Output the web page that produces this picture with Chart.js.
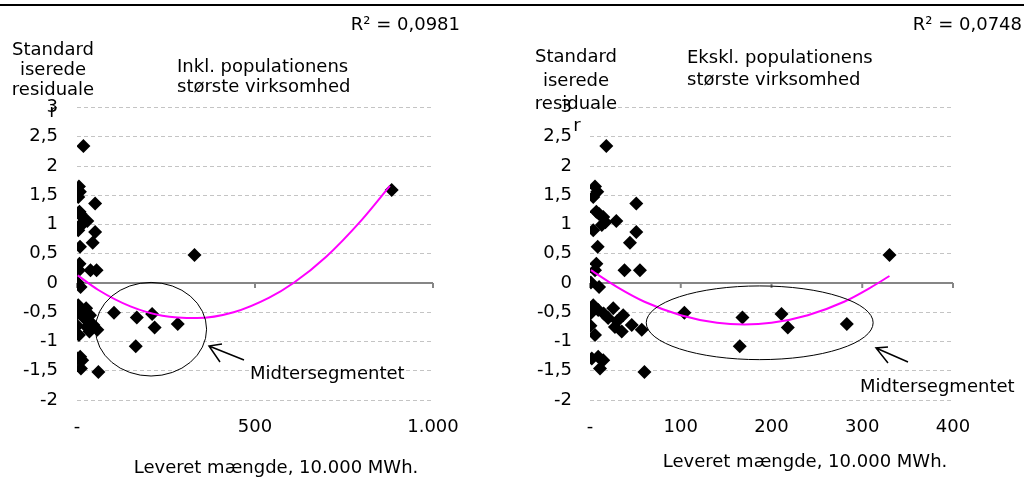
<!DOCTYPE html>
<html>
<head>
<meta charset="utf-8">
<script src="https://cdn.jsdelivr.net/npm/chart.js@4/dist/chart.umd.min.js"></script>
<style>
body { margin: 0; background: #fff; }
#wrap { position: relative; width: 1026px; height: 477px; overflow: hidden; }
.topline { position: absolute; left: 0; top: 4px; width: 1024px; height: 2px; background: #000; }
.panel { position: absolute; top: 0; width: 513px; height: 477px; }
</style>
</head>
<body>
<div id="wrap">
  <div class="topline"></div>
  <div class="panel" style="left:0"><canvas id="chartInkl" width="513" height="477"></canvas></div>
  <div class="panel" style="left:513px"><canvas id="chartEkskl" width="513" height="477"></canvas></div>
</div>
<script>
// leveret mængde (10.000 MWh) and standardiserede residualer
var leveret = [18, 5.5, 8, 3.6, 51, 7, 14.6, 29, 13, 3.6, 51, 44, 8.5, 7, 5.5, 38, 55, 330,
               1, 10, 3.6, 9, 0.5, 25.6, 36.6, 20, 27.5, 35, 46, 57, 0.5, 5.5, 9, 14.6, 2, 11, 60,
               104, 168, 211, 218, 283, 165, 10, 17, 15, 30]
var residualer = [2.34, 1.65, 1.56, 1.47, 1.36, 1.22, 1.13, 1.06, 0.99, 0.90, 0.87, 0.69, 0.62, 0.33, 0.22, 0.22, 0.22, 0.48,
                  0.01, -0.07, -0.38, -0.46, -0.52, -0.43, -0.55, -0.60, -0.75, -0.83, -0.72, -0.80, -0.73, -0.89, -1.26, -1.32, -1.29, -1.46, -1.52,
                  -0.51, -0.59, -0.53, -0.76, -0.70, -1.08, 1.18, 1.04, -0.52, -0.65]
// populationens største virksomhed (only in the left panel)
var stoersteX = [884]
var stoersteY = [1.59]

// polynomial trend lines (2nd order)
var trendInklX = [2, 60, 150, 240, 336, 440, 540, 608, 700, 800, 879]
var trendInklY = [0.13, -0.12, -0.40, -0.56, -0.60, -0.50, -0.25, 0.0, 0.45, 1.08, 1.66]
var trendEksklX = [1, 30, 60, 100, 140, 170, 200, 240, 280, 310, 330]
var trendEksklY = [0.22, -0.07, -0.32, -0.55, -0.68, -0.71, -0.68, -0.55, -0.32, -0.07, 0.12]

var yTickLabels = ['-2', '-1,5', '-1', '-0,5', '0', '0,5', '1', '1,5', '2', '2,5', '3']
var xTickInkl = ['-', '500', '1.000']
var xTickEkskl = ['-', '100', '200', '300', '400']

var FONT = '"DejaVu Sans", Verdana, sans-serif'
Chart.defaults.font.family = FONT
Chart.defaults.font.size = 18
Chart.defaults.color = '#000'

function toPoints(xs, ys) {
    return xs.map(function (x, i) { return {x: x, y: ys[i]} })
}

// axis line at 0, ellipse, arrow and texts
var extras = {
    id: 'extras',
    beforeDatasetsDraw: function (chart) {
        var ctx = chart.ctx, xs = chart.scales.x, ys = chart.scales.y
        var y0 = ys.getPixelForValue(0)
        ctx.save()
        ctx.strokeStyle = '#868686'
        ctx.lineWidth = 2
        ctx.beginPath()
        ctx.moveTo(chart.chartArea.left, y0)
        ctx.lineTo(chart.chartArea.right, y0)
        xs.ticks.forEach(function (t) {
            var px = xs.getPixelForValue(t.value)
            ctx.moveTo(px, y0)
            ctx.lineTo(px, y0 + 5)
        })
        ctx.stroke()
        ctx.restore()
    },
    afterDraw: function (chart) {
        var o = chart.options.plugins.extras
        var ctx = chart.ctx, xs = chart.scales.x, ys = chart.scales.y
        ctx.save()
        // ellipse round the middle segment
        var cx = xs.getPixelForValue(o.ell[0]), cy = ys.getPixelForValue(o.ell[1])
        var rx = Math.abs(xs.getPixelForValue(o.ell[0] + o.ell[2]) - cx)
        var ry = Math.abs(ys.getPixelForValue(o.ell[1] + o.ell[3]) - cy)
        ctx.strokeStyle = '#000'
        ctx.lineWidth = 1
        ctx.beginPath()
        ctx.ellipse(cx, cy, rx, ry, 0, 0, Math.PI * 2)
        ctx.stroke()
        // arrow
        var a = o.arrow
        ctx.lineWidth = 1.5
        ctx.beginPath()
        ctx.moveTo(a[0], a[1]); ctx.lineTo(a[2], a[3])
        ctx.moveTo(a[4], a[5]); ctx.lineTo(a[2], a[3]); ctx.lineTo(a[6], a[7])
        ctx.stroke()
        // texts
        ctx.fillStyle = '#000'
        ctx.font = '18px ' + FONT
        ctx.textBaseline = 'middle'
        o.texts.forEach(function (t) {
            ctx.textAlign = t.align
            ctx.fillText(t.text, t.x, t.y)
        })
        ctx.restore()
    }
}

function makeChart(id, cfg) {
    return new Chart(document.getElementById(id), {
        type: 'scatter',
        data: {
            datasets: [
                {
                    type: 'line',
                    data: toPoints(cfg.trendX, cfg.trendY),
                    borderColor: '#ff00ff',
                    borderWidth: 2,
                    pointRadius: 0,
                    fill: false,
                    cubicInterpolationMode: 'monotone',
                    order: 0
                },
                {
                    data: toPoints(cfg.x, cfg.y),
                    pointStyle: 'rectRot',
                    pointRadius: 7,
                    backgroundColor: '#000',
                    borderWidth: 0,
                    order: 1
                }
            ]
        },
        options: {
            responsive: false,
            animation: false,
            layout: {padding: {top: 107.5, right: cfg.padRight, left: 0, bottom: 0}},
            plugins: {
                legend: {display: false},
                tooltip: {enabled: false},
                extras: cfg.extras
            },
            scales: {
                x: {
                    type: 'linear',
                    min: 0, max: cfg.xMax,
                    afterFit: function (s) { s.height = 77 },
                    grid: {display: false, drawTicks: false},
                    border: {display: false},
                    ticks: {
                        stepSize: cfg.xStep, padding: 17, maxRotation: 0, autoSkip: false,
                        callback: function (v, i) { return cfg.xLabels[i] }
                    }
                },
                y: {
                    min: -2, max: 3,
                    afterFit: function (s) { s.width = 77 },
                    grid: {color: '#c4c4c4', lineWidth: 1, drawTicks: false},
                    border: {display: false, dash: [4, 3]},
                    ticks: {
                        stepSize: 0.5, padding: cfg.yPad, autoSkip: false,
                        callback: function (v, i) { return yTickLabels[i] }
                    }
                }
            }
        },
        plugins: [extras]
    })
}

makeChart('chartInkl', {
    x: leveret.concat(stoersteX), y: residualer.concat(stoersteY),
    trendX: trendInklX, trendY: trendInklY,
    xMax: 1000, xStep: 500, xLabels: xTickInkl, padRight: 80, yPad: 19,
    extras: {
        ell: [208, -0.79, 156, 0.80],
        arrow: [244, 360, 209, 346, 222, 344, 220, 362],
        texts: [
            {text: 'R² = 0,0981', x: 460, y: 25, align: 'right'},
            {text: 'Standard', x: 53, y: 50, align: 'center'},
            {text: 'iserede', x: 53, y: 70, align: 'center'},
            {text: 'residuale', x: 53, y: 90, align: 'center'},
            {text: 'r', x: 53, y: 112, align: 'center'},
            {text: 'Inkl. populationens', x: 177, y: 67, align: 'left'},
            {text: 'største virksomhed', x: 177, y: 87, align: 'left'},
            {text: 'Midtersegmentet', x: 250, y: 374, align: 'left'},
            {text: 'Leveret mængde, 10.000 MWh.', x: 276, y: 468, align: 'center'}
        ]
    }
})

makeChart('chartEkskl', {
    x: leveret, y: residualer,
    trendX: trendEksklX, trendY: trendEksklY,
    xMax: 400, xStep: 100, xLabels: xTickEkskl, padRight: 73, yPad: 18,
    extras: {
        ell: [187, -0.68, 125, 0.63],
        arrow: [395, 362, 363, 348, 375, 347, 375, 363],
        texts: [
            {text: 'R² = 0,0748', x: 509, y: 25, align: 'right'},
            {text: 'Standard', x: 63, y: 57, align: 'center'},
            {text: 'iserede', x: 63, y: 81, align: 'center'},
            {text: 'residuale', x: 63, y: 104, align: 'center'},
            {text: 'r', x: 64, y: 126, align: 'center'},
            {text: 'Ekskl. populationens', x: 174, y: 58, align: 'left'},
            {text: 'største virksomhed', x: 174, y: 80, align: 'left'},
            {text: 'Midtersegmentet', x: 347, y: 387, align: 'left'},
            {text: 'Leveret mængde, 10.000 MWh.', x: 292, y: 462, align: 'center'}
        ]
    }
})
</script>
</body>
</html>
